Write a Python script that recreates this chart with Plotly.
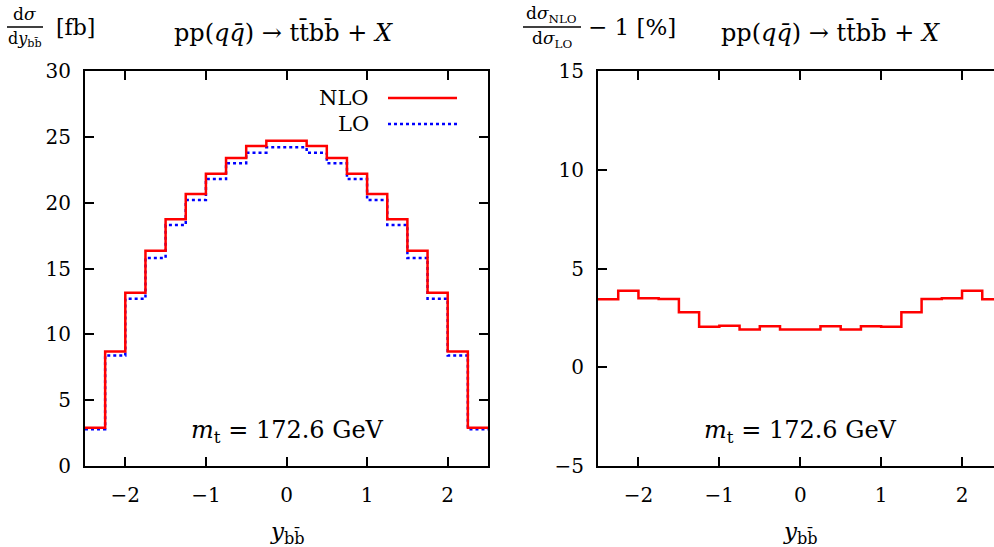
import plotly.graph_objects as go

# ---- data ----
bin_edges = [-2.5, -2.25, -2.0, -1.75, -1.5, -1.25, -1.0, -0.75, -0.5, -0.25, 0.0,
             0.25, 0.5, 0.75, 1.0, 1.25, 1.5, 1.75, 2.0, 2.25, 2.5]
nlo = [2.9, 8.7, 13.15, 16.35, 18.75, 20.65, 22.2, 23.4, 24.3, 24.7,
       24.7, 24.3, 23.4, 22.2, 20.65, 18.75, 16.35, 13.15, 8.7, 2.9]
lo = [2.8, 8.4, 12.7, 15.8, 18.3, 20.2, 21.8, 23.0, 23.8, 24.2,
      24.2, 23.8, 23.0, 21.8, 20.2, 18.3, 15.8, 12.7, 8.4, 2.8]
ratio = [3.44, 3.87, 3.49, 3.45, 2.78, 2.05, 2.1, 1.91, 2.08, 1.91,
         1.91, 2.08, 1.91, 2.08, 2.05, 2.78, 3.45, 3.49, 3.87, 3.44]
x_ticks = [-2, -1, 0, 1, 2]
y_ticks_left = [0, 5, 10, 15, 20, 25, 30]
y_ticks_right = [-5, 0, 5, 10, 15]

W, H = 994, 547
FONT = "DejaVu Serif, Liberation Serif, serif"
FS = 20


def px(x):
    return x / W


def py(y):
    return 1 - y / H


def step(vals):
    return bin_edges, list(vals) + [vals[-1]]


fig = go.Figure()
xs, ys = step(lo)
fig.add_trace(go.Scatter(x=xs, y=ys, mode="lines", line_shape="hv",
                         line=dict(color="#0000ff", width=2.5, dash="dot"),
                         xaxis="x", yaxis="y", showlegend=False))
xs, ys = step(nlo)
fig.add_trace(go.Scatter(x=xs, y=ys, mode="lines", line_shape="hv",
                         line=dict(color="#ff0000", width=2.5),
                         xaxis="x", yaxis="y", showlegend=False))
xs, ys = step(ratio)
fig.add_trace(go.Scatter(x=xs, y=ys, mode="lines", line_shape="hv",
                         line=dict(color="#ff0000", width=2.5),
                         xaxis="x2", yaxis="y2", showlegend=False))

axis_common = dict(showline=True, linecolor="black", linewidth=2, ticks="inside",
                   ticklen=9, tickwidth=2, tickcolor="black", showgrid=False,
                   zeroline=False, automargin=False,
                   tickfont=dict(family=FONT, size=FS, color="black"))

fig.update_layout(
    template="none",
    width=W, height=H, margin=dict(l=0, r=0, t=0, b=0, pad=0, autoexpand=False),
    paper_bgcolor="white", plot_bgcolor="white",
    font=dict(family=FONT, color="black"),
    xaxis=dict(domain=[px(85), px(488)], range=[-2.5, 2.5], tickvals=x_ticks,
               mirror="ticks", anchor="y", ticklabelstandoff=10, **axis_common),
    yaxis=dict(domain=[py(466), py(71)], range=[0, 30], tickvals=y_ticks_left,
               mirror="ticks", anchor="x", ticklabelstandoff=8, **axis_common),
    xaxis2=dict(domain=[px(598), 1.0], range=[-2.5, (994 - 800) / 81.0], tickvals=x_ticks,
                mirror="ticks", anchor="y2", ticklabelstandoff=10, **axis_common),
    yaxis2=dict(domain=[py(466), py(71)], range=[-5, 15], tickvals=y_ticks_right,
                mirror=False, anchor="x2", ticklabelstandoff=8, **axis_common),
)

ann = []
shapes = []


def text(x, y, s, size=FS, xanchor="center"):
    ann.append(dict(x=px(x), y=py(y), xref="paper", yref="paper", text=s, showarrow=False,
                    xanchor=xanchor, yanchor="middle",
                    font=dict(family=FONT, size=size, color="black")))


title_proc = "pp(<i>q</i><i>q\u0304</i>) \u2192 tt\u0304bb\u0304 + <i>X</i>"
# left titles
text(24, 14, "d<i>\u03c3</i>", size=17)
shapes.append(dict(type="line", xref="paper", yref="paper", x0=px(7), x1=px(43),
                   y0=py(27), y1=py(27), line=dict(color="black", width=1.5)))
text(25, 40, "d<i>y</i><sub>bb\u0304</sub>", size=16)
text(54, 27, "[fb]", size=22, xanchor="left")
text(283, 33, title_proc, size=24)
# right titles
text(551, 14, "d<i>\u03c3</i><sub>NLO</sub>", size=17)
shapes.append(dict(type="line", xref="paper", yref="paper", x0=px(523), x1=px(581),
                   y0=py(27), y1=py(27), line=dict(color="black", width=1.5)))
text(552, 40, "d<i>\u03c3</i><sub>LO</sub>", size=17)
text(586, 27, "\u2212 1 [%]", size=23, xanchor="left")
text(830, 33, title_proc, size=24)
# legend
text(371, 98, "NLO", size=21, xanchor="right")
shapes.append(dict(type="line", xref="paper", yref="paper", x0=px(388), x1=px(457),
                   y0=py(98), y1=py(98), line=dict(color="#ff0000", width=2.5)))
text(371, 124, "LO", size=21, xanchor="right")
shapes.append(dict(type="line", xref="paper", yref="paper", x0=px(388), x1=px(457),
                   y0=py(124), y1=py(124), line=dict(color="#0000ff", width=2.5, dash="dot")))
# mass labels
mt = "<i>m</i><sub>t</sub> = 172.6 GeV"
text(287, 431, mt, size=24)
text(800, 431, mt, size=24)
# x titles
xt = "<i>y</i><sub>bb\u0304</sub>"
text(287, 533, xt, size=23)
text(800, 533, xt, size=23)

fig.update_layout(annotations=ann, shapes=shapes)
fig.write_html("out.html", config={"displayModeBar": False},
               post_script="document.body.style.margin='0';document.body.style.overflow='hidden';")
